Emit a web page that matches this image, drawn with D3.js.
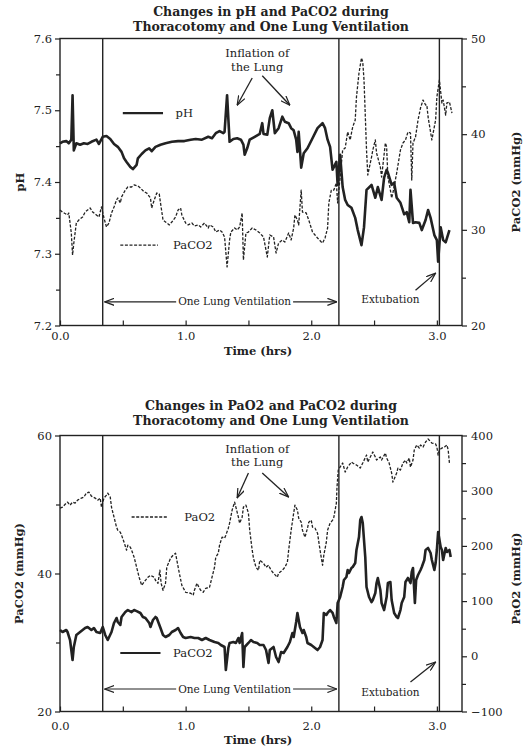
<!DOCTYPE html>
<head>
    <meta charset="utf-8">
    <script src="https://d3js.org/d3.v7.min.js"></script>
    <style>
        body { margin: 0; background: #fff; }
        text { font-family: "DejaVu Serif", serif; fill: #222; }
    </style>
</head>

<body>
    <div id="chart"></div>
</body>

<script>

    // time (hrs) of the three events: start of one lung ventilation, end of it, extubation
    const eventTimes = [0.34, 2.22, 3.02];

    // x axis ticks
    const timeTicks = [0, 0.5, 1, 1.5, 2, 2.5, 3];

    // ---- top chart: pH (left axis) and PaCO2 (right axis) ----
    const phTicks = [7.2, 7.3, 7.4, 7.5, 7.6];
    const phMinor = [7.25, 7.35, 7.45, 7.55];
    const co2TopTicks = [20, 30, 40, 50];
    const co2TopMinor = [25, 35, 45];

    // [time, pH]
    const phSeries = [
        [0.00,7.454],[0.02,7.456],[0.05,7.457],[0.07,7.454],[0.09,7.459],[0.10,7.521],[0.11,7.444],[0.13,7.454],
        [0.16,7.452],[0.19,7.454],[0.22,7.453],[0.25,7.456],[0.29,7.459],[0.31,7.453],[0.34,7.463],[0.37,7.464],
        [0.40,7.460],[0.43,7.453],[0.46,7.449],[0.49,7.442],[0.51,7.433],[0.53,7.428],[0.56,7.421],[0.58,7.418],
        [0.61,7.424],[0.62,7.433],[0.65,7.439],[0.68,7.444],[0.71,7.447],[0.73,7.443],[0.76,7.449],[0.80,7.452],
        [0.84,7.454],[0.89,7.456],[0.94,7.457],[0.99,7.457],[1.04,7.459],[1.08,7.460],[1.13,7.459],[1.18,7.463],
        [1.21,7.461],[1.24,7.468],[1.27,7.471],[1.30,7.468],[1.31,7.470],[1.33,7.521],[1.35,7.456],[1.38,7.460],
        [1.41,7.461],[1.44,7.459],[1.46,7.452],[1.47,7.438],[1.49,7.447],[1.51,7.459],[1.55,7.463],[1.59,7.467],
        [1.61,7.482],[1.62,7.467],[1.65,7.466],[1.67,7.489],[1.69,7.500],[1.71,7.468],[1.74,7.475],[1.77,7.491],
        [1.79,7.484],[1.82,7.482],[1.84,7.475],[1.86,7.472],[1.88,7.459],[1.89,7.442],[1.90,7.470],[1.92,7.420],
        [1.94,7.440],[1.97,7.447],[2.01,7.461],[2.05,7.475],[2.09,7.482],[2.11,7.475],[2.13,7.459],[2.15,7.449],
        [2.17,7.417],[2.20,7.428],[2.21,7.396],[2.23,7.438],[2.25,7.393],[2.27,7.375],[2.29,7.368],[2.32,7.364],
        [2.35,7.350],[2.37,7.333],[2.40,7.312],[2.42,7.337],[2.44,7.389],[2.47,7.394],[2.48,7.396],[2.51,7.378],
        [2.53,7.393],[2.56,7.375],[2.58,7.406],[2.60,7.417],[2.61,7.413],[2.64,7.396],[2.66,7.399],[2.68,7.378],
        [2.71,7.371],[2.74,7.355],[2.76,7.358],[2.78,7.344],[2.79,7.389],[2.81,7.343],[2.83,7.344],[2.86,7.343],
        [2.88,7.333],[2.91,7.347],[2.93,7.361],[2.95,7.350],[2.98,7.326],[3.00,7.319],[3.01,7.289],[3.03,7.337],
        [3.05,7.319],[3.07,7.316],[3.10,7.333]
    ];

    // [time, PaCO2 mmHg]
    const co2TopSeries = [
        [0.00,32.07],[0.02,31.86],[0.06,31.55],[0.07,31.76],[0.09,29.67],[0.10,27.37],[0.11,28.62],[0.13,30.71],
        [0.15,31.03],[0.18,31.34],[0.20,31.86],[0.22,32.07],[0.24,32.28],[0.26,31.86],[0.29,31.55],[0.31,31.34],
        [0.33,32.39],[0.35,31.24],[0.37,30.30],[0.39,30.71],[0.41,31.76],[0.43,32.39],[0.45,33.12],[0.46,33.33],
        [0.48,32.81],[0.49,33.43],[0.52,34.16],[0.54,34.48],[0.57,34.48],[0.59,34.69],[0.62,34.58],[0.64,34.37],
        [0.67,33.96],[0.69,33.85],[0.72,33.33],[0.73,32.28],[0.75,33.12],[0.77,33.85],[0.79,33.75],[0.80,32.81],
        [0.82,31.03],[0.84,30.82],[0.87,30.51],[0.89,30.82],[0.92,31.34],[0.94,32.07],[0.96,32.28],[0.97,31.55],
        [1.00,30.71],[1.02,30.51],[1.05,30.71],[1.07,30.40],[1.10,30.51],[1.12,30.30],[1.15,30.71],[1.18,30.19],
        [1.19,30.51],[1.22,30.30],[1.24,29.77],[1.27,29.98],[1.29,29.77],[1.31,29.25],[1.33,26.12],[1.35,28.94],
        [1.36,29.77],[1.39,30.19],[1.41,29.98],[1.43,30.30],[1.45,31.76],[1.46,26.85],[1.48,29.67],[1.50,29.77],
        [1.53,30.19],[1.56,29.98],[1.59,29.67],[1.62,29.25],[1.65,27.16],[1.67,29.46],[1.70,29.25],[1.72,27.58],
        [1.74,28.62],[1.77,28.94],[1.79,28.73],[1.82,29.67],[1.84,28.94],[1.86,30.19],[1.87,31.55],[1.89,31.03],
        [1.90,30.51],[1.92,34.16],[1.93,31.86],[1.96,31.76],[1.98,31.03],[2.01,29.77],[2.03,29.46],[2.05,29.15],
        [2.08,28.73],[2.09,28.62],[2.11,29.15],[2.13,30.19],[2.14,32.81],[2.16,34.16],[2.18,34.16],[2.20,34.90],
        [2.21,32.81],[2.23,35.52],[2.25,38.34],[2.27,38.55],[2.29,40.23],[2.31,39.39],[2.32,40.12],[2.33,40.75],
        [2.35,41.48],[2.36,43.89],[2.38,46.39],[2.40,47.96],[2.41,47.54],[2.42,45.66],[2.44,38.34],[2.45,35.73],
        [2.48,37.61],[2.49,38.34],[2.51,39.39],[2.52,38.03],[2.55,36.57],[2.56,35.52],[2.59,39.08],[2.60,38.66],
        [2.61,35.52],[2.63,34.16],[2.64,33.33],[2.65,33.85],[2.68,35.94],[2.71,38.34],[2.73,39.08],[2.75,39.39],
        [2.77,40.23],[2.79,40.12],[2.80,35.21],[2.81,39.08],[2.83,39.70],[2.85,41.48],[2.87,42.74],[2.89,43.57],
        [2.91,43.05],[2.92,43.05],[2.93,41.80],[2.96,39.39],[2.99,41.48],[3.00,43.89],[3.02,45.66],[3.04,43.26],
        [3.05,43.57],[3.07,42.00],[3.08,43.26],[3.10,43.36],[3.12,42.21]
    ];

    // ---- bottom chart: PaCO2 (left axis) and PaO2 (right axis) ----
    const co2BotTicks = [20, 40, 60];
    const co2BotMinor = [30, 50];
    const o2Ticks = [-100, 0, 100, 200, 300, 400];
    const o2Minor = [-50, 50, 150, 250, 350];

    // [time, PaO2 mmHg]
    const o2Series = [
        [0.00,268.4],[0.02,270.3],[0.05,277.5],[0.06,279.3],[0.08,273.9],[0.10,279.3],[0.12,277.5],[0.14,282.9],
        [0.17,286.6],[0.19,288.4],[0.21,295.6],[0.23,297.5],[0.25,290.2],[0.28,286.6],[0.30,282.9],[0.32,286.6],
        [0.33,270.3],[0.35,286.6],[0.37,292.0],[0.38,295.6],[0.40,288.4],[0.41,270.3],[0.43,252.1],[0.45,233.9],
        [0.46,228.5],[0.48,224.9],[0.49,219.4],[0.51,206.7],[0.53,192.2],[0.54,201.3],[0.56,197.6],[0.57,192.2],
        [0.59,179.5],[0.61,161.3],[0.63,143.2],[0.65,128.6],[0.68,137.7],[0.70,143.2],[0.72,146.8],[0.75,143.2],
        [0.76,137.7],[0.78,132.3],[0.795,155.9],[0.805,132.3],[0.82,119.6],[0.84,132.3],[0.85,161.3],[0.88,177.7],
        [0.90,183.1],[0.92,186.7],[0.93,174.0],[0.95,150.4],[0.97,128.6],[1.00,116.0],[1.04,114.2],[1.06,110.5],
        [1.07,119.6],[1.09,132.3],[1.11,123.2],[1.12,119.6],[1.14,116.0],[1.16,123.2],[1.19,125.0],[1.21,143.2],
        [1.23,161.3],[1.24,179.5],[1.26,186.7],[1.27,201.3],[1.29,215.8],[1.31,214.0],[1.32,219.4],[1.34,232.1],
        [1.35,241.2],[1.37,264.8],[1.39,279.3],[1.40,270.3],[1.42,252.1],[1.43,241.2],[1.45,252.1],[1.46,270.3],
        [1.48,273.9],[1.50,259.3],[1.51,228.5],[1.53,192.2],[1.54,177.7],[1.56,161.3],[1.58,155.9],[1.59,174.0],
        [1.62,168.6],[1.64,161.3],[1.66,165.0],[1.68,155.9],[1.70,150.4],[1.73,143.2],[1.74,150.4],[1.77,155.9],
        [1.79,161.3],[1.81,170.4],[1.82,192.2],[1.84,228.5],[1.86,259.3],[1.87,273.9],[1.89,264.8],[1.90,250.3],
        [1.92,243.0],[1.93,228.5],[1.95,215.8],[1.97,232.1],[1.98,243.0],[2.00,246.6],[2.01,233.9],[2.03,232.1],
        [2.05,223.0],[2.07,192.2],[2.09,165.0],[2.10,183.1],[2.12,206.7],[2.13,228.5],[2.15,241.2],[2.17,246.6],
        [2.18,252.1],[2.20,277.5],[2.205,306.5],[2.215,337.4],[2.25,350.1],[2.27,333.8],[2.29,342.8],[2.32,351.9],
        [2.33,350.1],[2.36,346.5],[2.39,341.0],[2.41,350.1],[2.44,364.6],[2.45,351.9],[2.47,361.0],[2.49,370.1],
        [2.51,361.0],[2.52,355.5],[2.55,361.0],[2.56,355.5],[2.59,368.2],[2.60,359.2],[2.62,350.1],[2.64,332.0],
        [2.65,315.6],[2.68,332.0],[2.69,341.0],[2.71,337.4],[2.73,350.1],[2.75,355.5],[2.76,350.1],[2.78,359.2],
        [2.79,342.8],[2.81,355.5],[2.82,373.7],[2.84,382.8],[2.86,377.3],[2.87,382.8],[2.89,379.1],[2.91,388.2],
        [2.93,393.6],[2.96,386.4],[2.99,384.6],[3.00,379.1],[3.01,364.6],[3.02,373.7],[3.04,377.3],[3.06,379.1],
        [3.08,382.8],[3.09,373.7],[3.10,350.1]
    ];

    // [time, PaCO2 mmHg]
    const co2BotSeries = [
        [0.00,31.81],[0.02,31.52],[0.05,31.81],[0.06,31.52],[0.08,30.36],[0.09,28.91],[0.10,27.46],[0.11,29.35],
        [0.13,31.09],[0.15,31.38],[0.18,31.81],[0.20,32.10],[0.22,32.25],[0.25,31.81],[0.27,32.10],[0.29,31.52],
        [0.32,31.38],[0.33,31.81],[0.34,32.25],[0.36,31.09],[0.38,30.36],[0.41,31.52],[0.43,32.83],[0.45,33.55],
        [0.46,32.97],[0.48,32.54],[0.49,33.70],[0.52,34.41],[0.54,34.70],[0.57,34.41],[0.59,34.70],[0.61,34.55],
        [0.64,34.28],[0.66,33.70],[0.68,33.55],[0.71,32.83],[0.72,32.25],[0.74,33.26],[0.76,33.70],[0.77,33.55],
        [0.80,32.10],[0.82,31.09],[0.84,30.80],[0.87,31.09],[0.89,31.52],[0.92,31.81],[0.94,32.10],[0.96,31.38],
        [0.98,30.80],[1.00,30.65],[1.04,30.80],[1.07,30.65],[1.10,30.65],[1.13,30.36],[1.16,30.65],[1.19,30.36],
        [1.23,30.07],[1.26,29.93],[1.28,29.64],[1.31,29.35],[1.32,26.01],[1.34,29.20],[1.35,29.93],[1.38,30.07],
        [1.40,29.93],[1.42,30.65],[1.43,29.93],[1.45,31.38],[1.46,26.45],[1.47,29.35],[1.50,29.93],[1.52,30.36],
        [1.54,30.07],[1.57,29.93],[1.59,29.64],[1.62,29.64],[1.64,28.91],[1.66,27.03],[1.67,28.91],[1.70,29.35],
        [1.72,27.90],[1.74,27.17],[1.76,28.62],[1.78,28.48],[1.81,29.35],[1.83,30.07],[1.85,31.38],[1.86,30.80],
        [1.88,32.97],[1.89,34.28],[1.91,32.25],[1.93,31.38],[1.94,31.81],[1.96,30.80],[1.97,29.93],[2.00,29.64],
        [2.02,29.35],[2.05,28.91],[2.07,29.35],[2.09,30.36],[2.10,34.28],[2.12,33.99],[2.13,34.28],[2.15,34.70],
        [2.17,34.28],[2.18,33.70],[2.20,32.83],[2.21,35.72],[2.23,36.59],[2.25,38.04],[2.26,39.06],[2.28,39.49],
        [2.29,40.51],[2.30,40.07],[2.32,40.80],[2.33,40.94],[2.35,41.52],[2.36,43.41],[2.38,45.29],[2.39,47.75],
        [2.40,48.19],[2.41,47.32],[2.43,42.39],[2.44,38.04],[2.46,36.59],[2.48,35.86],[2.49,36.16],[2.51,37.17],
        [2.52,38.62],[2.53,39.35],[2.55,37.61],[2.56,35.72],[2.58,34.70],[2.60,36.59],[2.61,38.62],[2.63,38.77],
        [2.64,36.16],[2.66,34.28],[2.68,33.70],[2.69,33.55],[2.71,34.70],[2.72,35.72],[2.74,36.59],[2.75,38.77],
        [2.77,39.35],[2.79,38.62],[2.80,40.22],[2.81,40.80],[2.825,35.72],[2.835,39.06],[2.85,39.78],[2.87,40.51],
        [2.88,40.94],[2.90,41.96],[2.91,43.41],[2.93,43.70],[2.95,42.97],[2.96,41.96],[2.98,40.51],[2.99,41.52],
        [3.00,43.41],[3.01,46.01],[3.03,43.84],[3.04,43.41],[3.05,41.96],[3.07,43.70],[3.08,43.12],[3.10,43.41],
        [3.11,42.39]
    ];

    const width = 530, height = 747;

    const svg = d3.select("#chart")
        .append("svg")
            .attr("width", width)
            .attr("height", height);

    // arrow heads (open chevrons)
    svg.append("defs").append("marker")
        .attr("id", "arrow")
        .attr("viewBox", "0 0 10 8")
        .attr("refX", 9.5).attr("refY", 4)
        .attr("markerWidth", 10).attr("markerHeight", 8)
        .attr("markerUnits", "userSpaceOnUse")
        .attr("orient", "auto-start-reverse")
        .append("path")
            .attr("d", "M0,0.5 L9.5,4 L0,7.5")
            .attr("fill", "none")
            .attr("stroke", "#222")
            .attr("stroke-width", 1.2);

    const x = d3.scaleLinear().domain([0, 3.2]).range([60, 462]);

    function drawPanel(p) {
        const yL = d3.scaleLinear().domain(p.leftDomain).range([p.bottom, p.top]);
        const yR = d3.scaleLinear().domain(p.rightDomain).range([p.bottom, p.top]);
        const g = svg.append("g");

        // titles
        p.title.forEach((t, i) => {
            g.append("text")
                .attr("x", 271).attr("y", p.titleY + i * 15)
                .attr("text-anchor", "middle")
                .attr("font-size", 12.5).attr("font-weight", "bold")
                .text(t);
        });

        // bottom axis, ticks pointing inward
        const xa = g.append("g")
            .attr("transform", `translate(0,${p.bottom})`)
            .call(d3.axisBottom(x).tickValues(timeTicks).tickSize(-5)
                .tickFormat(d => Number.isInteger(d) ? d.toFixed(1) : ""));
        xa.select(".domain").remove();
        xa.selectAll("text").attr("y", p.xLabelDy).attr("font-size", 11.5).attr("font-family", "DejaVu Serif");

        // left axis
        const la = g.append("g").attr("transform", "translate(60,0)")
            .call(d3.axisLeft(yL).tickValues(p.leftTicks).tickSize(5).tickPadding(3).tickFormat(p.leftFormat));
        la.select(".domain").remove();
        la.selectAll("text").attr("font-size", 11.5).attr("font-family", "DejaVu Serif");
        const lm = g.append("g").attr("transform", "translate(60,0)")
            .call(d3.axisLeft(yL).tickValues(p.leftMinor).tickSize(4).tickFormat(""));
        lm.select(".domain").remove();

        // right axis
        const ra = g.append("g").attr("transform", "translate(462,0)")
            .call(d3.axisRight(yR).tickValues(p.rightTicks).tickSize(5).tickPadding(4).tickFormat(d3.format("d")));
        ra.select(".domain").remove();
        ra.selectAll("text").attr("font-size", 11.5).attr("font-family", "DejaVu Serif");
        const rm = g.append("g").attr("transform", "translate(462,0)")
            .call(d3.axisRight(yR).tickValues(p.rightMinor).tickSize(4).tickFormat(""));
        rm.select(".domain").remove();
        g.selectAll(".tick line").attr("stroke", "#222").attr("stroke-width", 1.2);

        // frame
        g.append("rect")
            .attr("x", x.range()[0]).attr("y", p.top)
            .attr("width", x.range()[1] - x.range()[0]).attr("height", p.bottom - p.top)
            .attr("fill", "none").attr("stroke", "#222").attr("stroke-width", 1.4);

        // axis titles
        g.append("text")
            .attr("transform", `translate(${p.leftTitleX},${(p.top + p.bottom) / 2}) rotate(-90)`)
            .attr("text-anchor", "middle").attr("dy", "0.35em")
            .attr("font-size", 11.5).attr("font-weight", "bold")
            .text(p.leftTitle);
        g.append("text")
            .attr("transform", `translate(516,${(p.top + p.bottom) / 2 + p.rightTitleShift}) rotate(-90)`)
            .attr("text-anchor", "middle").attr("dy", "0.35em")
            .attr("font-size", 11.5).attr("font-weight", "bold")
            .text(p.rightTitle);
        g.append("text")
            .attr("x", 258).attr("y", p.bottom + p.timeDy)
            .attr("text-anchor", "middle").attr("dy", "0.35em")
            .attr("font-size", 11.5).attr("font-weight", "bold")
            .text("Time (hrs)");

        // event lines
        g.selectAll(".event")
            .data(eventTimes)
            .join("line")
                .attr("x1", d => x(d)).attr("x2", d => x(d))
                .attr("y1", p.top).attr("y2", p.bottom)
                .attr("stroke", "#222").attr("stroke-width", 1.4);

        // series
        p.series.forEach(s => {
            const y = s.axis === "left" ? yL : yR;
            g.append("path")
                .datum(s.data)
                .attr("fill", "none")
                .attr("stroke", "#222")
                .attr("stroke-width", s.dashed ? 1.3 : 2.6)
                .attr("stroke-dasharray", s.dashed ? "3,1.6" : null)
                .attr("stroke-linejoin", "round")
                .attr("d", d3.line().x(d => x(d[0])).y(d => y(d[1])));
        });

        // legends
        p.legend.forEach(l => {
            g.append("line")
                .attr("x1", x(l.t0)).attr("x2", x(l.t1))
                .attr("y1", yL(l.v)).attr("y2", yL(l.v))
                .attr("stroke", "#222")
                .attr("stroke-width", l.dashed ? 1.3 : 2.2)
                .attr("stroke-dasharray", l.dashed ? "3,1.6" : null);
            g.append("text")
                .attr("x", x(l.tText)).attr("y", yL(l.v)).attr("dy", "0.35em")
                .attr("font-size", 11.5)
                .text(l.label);
        });

        // "Inflation of the Lung"
        const inf = p.inflation;
        ["Inflation of", "the Lung"].forEach((t, i) => {
            g.append("text")
                .attr("x", x(inf.t)).attr("y", yL(inf.v[i])).attr("dy", "0.35em")
                .attr("text-anchor", "middle").attr("font-size", 11.5)
                .text(t);
        });
        inf.arrows.forEach(a => {
            g.append("line")
                .attr("x1", x(a[0])).attr("y1", yL(a[1]))
                .attr("x2", x(a[2])).attr("y2", yL(a[3]))
                .attr("stroke", "#222").attr("stroke-width", 1.3)
                .attr("marker-end", "url(#arrow)");
        });

        // One Lung Ventilation double arrow
        const yo = yL(p.olv.v);
        const lt = g.append("text")
            .attr("x", x(p.olv.t)).attr("y", yo).attr("dy", "0.35em")
            .attr("text-anchor", "middle").attr("font-size", 10.5)
            .text("One Lung Ventilation");
        const tw = lt.node().getComputedTextLength();
        g.append("line")
            .attr("x1", x(p.olv.t) - tw / 2 - 2).attr("x2", x(eventTimes[0]) + 2)
            .attr("y1", yo).attr("y2", yo)
            .attr("stroke", "#222").attr("stroke-width", 1.2)
            .attr("marker-end", "url(#arrow)");
        g.append("line")
            .attr("x1", x(p.olv.t) + tw / 2 + 2).attr("x2", x(eventTimes[1]) - 2)
            .attr("y1", yo).attr("y2", yo)
            .attr("stroke", "#222").attr("stroke-width", 1.2)
            .attr("marker-end", "url(#arrow)");

        // Extubation
        g.append("text")
            .attr("x", x(p.ext.t)).attr("y", yL(p.ext.v)).attr("dy", "0.35em")
            .attr("text-anchor", "middle").attr("font-size", 10.5)
            .text("Extubation");
        const ea = p.ext.arrow;
        g.append("line")
            .attr("x1", x(ea[0])).attr("y1", yL(ea[1]))
            .attr("x2", x(ea[2])).attr("y2", yL(ea[3]))
            .attr("stroke", "#222").attr("stroke-width", 1.3)
            .attr("marker-end", "url(#arrow)");
    }

    drawPanel({
        top: 38.5, bottom: 325.5,
        title: ["Changes in pH and PaCO2 during", "Thoracotomy and One Lung Ventilation"],
        titleY: 16,
        leftDomain: [7.2, 7.6], leftTicks: phTicks, leftMinor: phMinor, leftFormat: d3.format(".1f"),
        rightDomain: [20, 50], rightTicks: co2TopTicks, rightMinor: co2TopMinor,
        leftTitle: "pH", leftTitleX: 20,
        rightTitle: "PaCO2 (mmHg)", rightTitleShift: 0,
        xLabelDy: 6, timeDy: 25,
        series: [
            { data: phSeries, axis: "left", dashed: false },
            { data: co2TopSeries, axis: "right", dashed: true }
        ],
        legend: [
            { label: "pH", t0: 0.50, t1: 0.82, tText: 0.92, v: 7.496, dashed: false },
            { label: "PaCO2", t0: 0.48, t1: 0.78, tText: 0.90, v: 7.312, dashed: true }
        ],
        inflation: { t: 1.57, v: [7.580, 7.560],
            arrows: [[1.53, 7.545, 1.41, 7.507], [1.61, 7.548, 1.83, 7.507]] },
        olv: { t: 1.39, v: 7.233 },
        ext: { t: 2.63, v: 7.237, arrow: [2.83, 7.249, 2.99, 7.273] }
    });

    drawPanel({
        top: 435.5, bottom: 711.5,
        title: ["Changes in PaO2 and PaCO2 during", "Thoracotomy and One Lung Ventilation"],
        titleY: 410,
        leftDomain: [20, 60], leftTicks: co2BotTicks, leftMinor: co2BotMinor, leftFormat: d3.format("d"),
        rightDomain: [-100, 400], rightTicks: o2Ticks, rightMinor: o2Minor,
        leftTitle: "PaCO2  (mmHg)", leftTitleX: 19,
        rightTitle: "PaO2  (mmHg)", rightTitleShift: 5,
        xLabelDy: 10, timeDy: 28,
        series: [
            { data: co2BotSeries, axis: "left", dashed: false },
            { data: o2Series.map(d => [d[0], d[1]]), axis: "right", dashed: true }
        ],
        legend: [
            { label: "PaO2", t0: 0.57, t1: 0.86, tText: 0.99, v: 48.19, dashed: true },
            { label: "PaCO2", t0: 0.48, t1: 0.80, tText: 0.90, v: 28.48, dashed: false }
        ],
        inflation: { t: 1.57, v: [58.04, 56.16],
            arrows: [[1.50, 54.57, 1.41, 50.94], [1.61, 54.57, 1.82, 51.09]] },
        olv: { t: 1.39, v: 23.26 },
        ext: { t: 2.63, v: 22.83, arrow: [2.79, 24.28, 2.99, 27.17] }
    });

</script>
</html>
